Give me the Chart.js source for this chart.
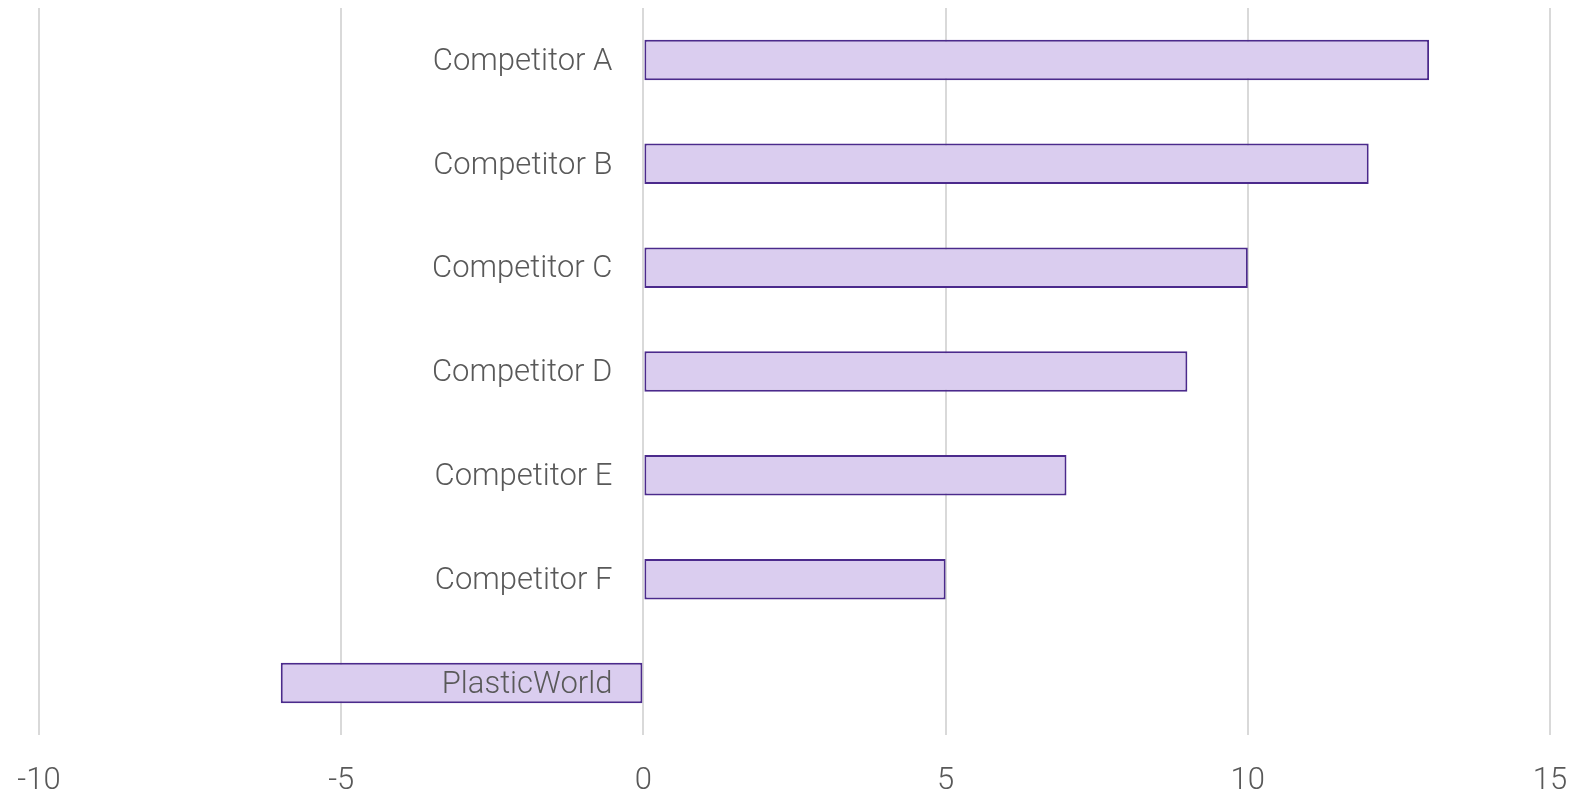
<!DOCTYPE html>
<html>
<head>
<meta charset="utf-8">
<script src="https://cdn.jsdelivr.net/npm/chart.js@4"></script>
<style>
  html, body { margin: 0; padding: 0; background: #fff; }
  #wrap { width: 1579px; height: 796px; }
</style>
</head>
<body>
<div id="wrap"><canvas id="myChart"></canvas></div>
<script>
// data
const categories = ["Competitor A", "Competitor B", "Competitor C", "Competitor D", "Competitor E", "Competitor F", "PlasticWorld"];
const scores = [13, 12, 10, 9, 7, 5, -6];
const xTicks = [-10, -5, 0, 5, 10, 15];

const textColor = "#595959";
const fontFamily = "Roboto, 'Liberation Sans', sans-serif";

// category names sit just left of the zero line
const labelsAtZero = {
  id: "labelsAtZero",
  afterDatasetsDraw(chart) {
    const ctx = chart.ctx;
    const x0 = chart.scales.x.getPixelForValue(0) - 31;
    const meta = chart.getDatasetMeta(0);
    ctx.save();
    ctx.font = "300 31px " + fontFamily;
    ctx.fillStyle = textColor;
    ctx.textAlign = "right";
    ctx.textBaseline = "middle";
    meta.data.forEach((bar, i) => {
      ctx.fillText(categories[i], x0, bar.y + 2);
    });
    ctx.restore();
  }
};

const myChart = new Chart(document.getElementById("myChart").getContext("2d"), {
  type: "bar",
  data: {
    labels: categories,
    datasets: [{
      data: scores,
      backgroundColor: "#dacdef",
      borderColor: "#4b2a8c",
      borderWidth: 2,
      borderSkipped: false,
      barPercentage: 0.39,
      categoryPercentage: 1
    }]
  },
  options: {
    indexAxis: "y",
    responsive: true,
    maintainAspectRatio: false,
    animation: false,
    layout: { padding: { left: 39, right: 29, top: 8, bottom: 0 } },
    plugins: {
      legend: { display: false },
      tooltip: { enabled: false }
    },
    scales: {
      x: {
        min: -10,
        max: 15,
        afterBuildTicks(axis) {
          axis.ticks = xTicks.map(v => ({ value: v }));
        },
        afterFit(axis) {
          axis.height = 61;
          axis.paddingLeft = 0;
          axis.paddingRight = 0;
        },
        grid: { color: "#d9d9d9", lineWidth: 2, drawTicks: false },
        border: { display: false },
        ticks: {
          color: textColor,
          padding: 28,
          maxRotation: 0,
          font: { family: fontFamily, size: 31, weight: 300 }
        }
      },
      y: {
        display: false,
        grid: { display: false }
      }
    }
  },
  plugins: [labelsAtZero]
});
</script>
</body>
</html>
